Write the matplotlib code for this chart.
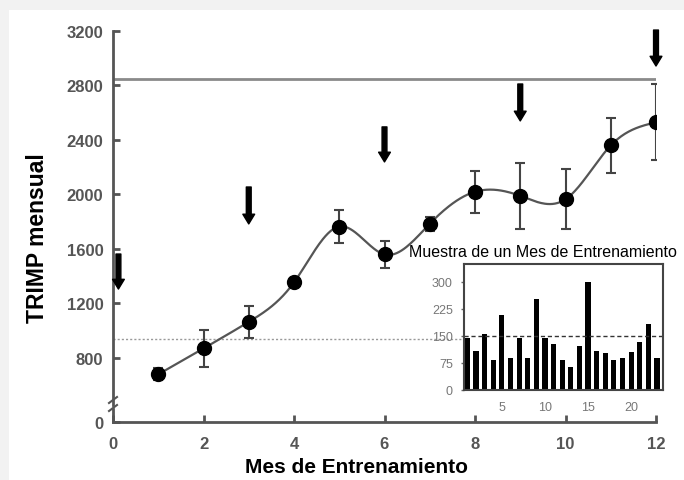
import numpy as np
import matplotlib
matplotlib.use("Agg")
import matplotlib.pyplot as plt
from matplotlib.patches import Rectangle

plt.rcParams['font.family'] = ['Liberation Sans', 'DejaVu Sans']

# monthly TRIMP (mean +- error)
months = [1, 2, 3, 4, 5, 6, 7, 8, 9, 10, 11, 12]
trimp = [680, 870, 1065, 1355, 1765, 1560, 1785, 2020, 1990, 1965, 2360, 2530]
trimp_err = [45, 135, 115, 30, 120, 100, 50, 155, 240, 220, 205, 280]

# reference lines
upper_line = 2850
mean_line = 940

# arrows (month, tip value, tail value)
arrow_months = [0.12, 3, 6, 9, 12]
arrow_tips = [1306, 1784, 2239, 2540, 2943]
arrow_tails = [1563, 2055, 2496, 2811, 3207]

# inset: one sample month, daily TRIMP
days = list(range(1, 24))
daily = [145, 107, 155, 82, 209, 88, 145, 88, 252, 145, 128, 84, 65,
         121, 300, 107, 102, 84, 90, 105, 132, 184, 88]
daily_mean = 150

yticks = [800, 1200, 1600, 2000, 2400, 2800, 3200]
xticks = [0, 2, 4, 6, 8, 10, 12]


def natural_spline(x, y, n=400):
    x = np.asarray(x, float)
    y = np.asarray(y, float)
    k = len(x)
    h = np.diff(x)
    A = np.zeros((k, k))
    b = np.zeros(k)
    A[0, 0] = A[-1, -1] = 1
    for i in range(1, k - 1):
        A[i, i - 1] = h[i - 1]
        A[i, i] = 2 * (h[i - 1] + h[i])
        A[i, i + 1] = h[i]
        b[i] = 6 * ((y[i + 1] - y[i]) / h[i] - (y[i] - y[i - 1]) / h[i - 1])
    m = np.linalg.solve(A, b)
    xs = np.linspace(x[0], x[-1], n)
    idx = np.clip(np.searchsorted(x, xs) - 1, 0, k - 2)
    x0, x1 = x[idx], x[idx + 1]
    hh = x1 - x0
    t0, t1 = x1 - xs, xs - x0
    ys = (m[idx] * t0**3 / (6 * hh) + m[idx + 1] * t1**3 / (6 * hh)
          + (y[idx] / hh - m[idx] * hh / 6) * t0
          + (y[idx + 1] / hh - m[idx + 1] * hh / 6) * t1)
    return xs, ys


W, H = 684, 481
fig = plt.figure(figsize=(W / 100, H / 100), dpi=100)
fig.patch.set_facecolor('#f2f2f2')
fig.patches.append(Rectangle((9 / W, 0), 1, 1 - 11 / H, transform=fig.transFigure,
                             facecolor='white', edgecolor='none', zorder=-10))

left, right = 113 / W, 656 / W
ax = fig.add_axes([left, 1 - 406 / H, right - left, (406 - 32) / H])
axb = fig.add_axes([left, 1 - 423 / H, right - left, (423 - 410) / H])
for a in (ax, axb):
    a.patch.set_alpha(0)
    a.set_xlim(0, 12)
    for s in ['top', 'right']:
        a.spines[s].set_visible(False)
    a.spines['left'].set_color('#555555')
    a.spines['left'].set_linewidth(2)

spine_col = '#555555'
tick_col = '#555555'

ax.set_ylim(455, 3200)
ax.spines['bottom'].set_visible(False)
ax.set_xticks([])
ax.set_yticks(yticks)
ax.tick_params(axis='y', direction='in', length=5, width=2, color=spine_col,
               labelsize=12, labelcolor=tick_col, pad=7)
for lbl in ax.get_yticklabels():
    lbl.set_fontweight('bold')

axb.set_ylim(0, 100)
axb.set_yticks([0])
axb.set_xticks(xticks)
axb.spines['bottom'].set_color(spine_col)
axb.spines['bottom'].set_linewidth(2)
axb.tick_params(axis='y', direction='in', length=5, width=2, color=spine_col,
                labelsize=12, labelcolor=tick_col, pad=7)
axb.tick_params(axis='x', direction='in', length=5, width=2, color=spine_col,
                labelsize=12, labelcolor=tick_col, pad=10)
for lbl in axb.get_yticklabels() + axb.get_xticklabels():
    lbl.set_fontweight('bold')

# break marks on the y axis
for yy in (401, 409):
    fig.lines.append(plt.Line2D([(113 - 4) / W, (113 + 4) / W],
                                [1 - (yy + 3) / H, 1 - (yy - 3) / H],
                                transform=fig.transFigure, color=spine_col, lw=1.5))

# reference lines
ax.hlines(upper_line, 0, 12, color='#8a8a8a', lw=2, zorder=1)
ax.axhline(mean_line, color='#999999', lw=1, linestyle=(0, (1.5, 1.5)), zorder=1)

# smooth curve + points
xs, ys = natural_spline(months, trimp)
ax.plot(xs, ys, color='#555555', lw=1.6, zorder=2)
ax.errorbar(months, trimp, yerr=trimp_err, fmt='o', color='black', ecolor='#444444',
            elinewidth=1.5, capsize=3.5, capthick=1.5, markersize=10, zorder=3)

# arrows
for xm, tip, tail in zip(arrow_months, arrow_tips, arrow_tails):
    ax.annotate('', xy=(xm, tip), xytext=(xm, tail), annotation_clip=False,
                arrowprops=dict(width=3.5, headwidth=8.5, headlength=7, shrink=0,
                                facecolor='black', edgecolor='black'))

fig.text(38 / W, 1 - 238 / H, 'TRIMP mensual', rotation=90, ha='center', va='center',
         fontsize=16.5, fontweight='bold')
fig.text(357 / W, 1 - 468 / H, 'Mes de Entrenamiento', ha='center', va='center',
         fontsize=15, fontweight='bold')

# inset
axi = fig.add_axes([464 / W, 1 - 391 / H, (663 - 464) / W, (391 - 265) / H])
axi.bar(days, daily, width=0.6, color='black')
axi.axhline(daily_mean, color='#333333', lw=1, linestyle=(0, (3, 2)))
axi.set_xlim(0.6, 23.7)
axi.set_ylim(0, 350)
axi.set_yticks([0, 75, 150, 225, 300])
axi.set_xticks([5, 10, 15, 20])
for s in axi.spines.values():
    s.set_color('#444444')
    s.set_linewidth(1.5)
axi.tick_params(length=2, width=1, color='#666666', labelsize=9, labelcolor='#777777', pad=6)
axi.tick_params(axis='x', length=0, pad=8)
axi.text(0.397, 1.10, 'Muestra de un Mes de Entrenamiento', transform=axi.transAxes,
         ha='center', va='center', fontsize=11.5)

fig.savefig('out.png', dpi=100)
